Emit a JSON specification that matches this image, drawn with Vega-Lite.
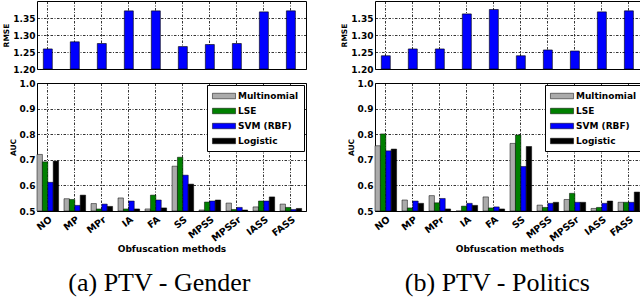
{
  "$schema": "https://vega.github.io/schema/vega-lite/v6.json",
  "background": "white",
  "padding": {"left": 2, "top": 0, "right": 0, "bottom": 0},
  "datasets": {
    "rmseA": [
      {"method": "NO", "value": 1.259}, {"method": "MP", "value": 1.280}, {"method": "MPr", "value": 1.275},
      {"method": "IA", "value": 1.371}, {"method": "FA", "value": 1.371}, {"method": "SS", "value": 1.266},
      {"method": "MPSS", "value": 1.272}, {"method": "MPSSr", "value": 1.275}, {"method": "IASS", "value": 1.368},
      {"method": "FASS", "value": 1.371}
    ],
    "rmseB": [
      {"method": "NO", "value": 1.239}, {"method": "MP", "value": 1.259}, {"method": "MPr", "value": 1.259},
      {"method": "IA", "value": 1.362}, {"method": "FA", "value": 1.375}, {"method": "SS", "value": 1.239},
      {"method": "MPSS", "value": 1.256}, {"method": "MPSSr", "value": 1.253}, {"method": "IASS", "value": 1.368},
      {"method": "FASS", "value": 1.371}
    ],
    "aucA": [
      {"method": "NO", "model": "Multinomial", "value": 0.721}, {"method": "NO", "model": "LSE", "value": 0.692}, {"method": "NO", "model": "SVM (RBF)", "value": 0.612}, {"method": "NO", "model": "Logistic", "value": 0.695},
      {"method": "MP", "model": "Multinomial", "value": 0.548}, {"method": "MP", "model": "LSE", "value": 0.545}, {"method": "MP", "model": "SVM (RBF)", "value": 0.522}, {"method": "MP", "model": "Logistic", "value": 0.562},
      {"method": "MPr", "model": "Multinomial", "value": 0.529}, {"method": "MPr", "model": "LSE", "value": 0.508}, {"method": "MPr", "model": "SVM (RBF)", "value": 0.527}, {"method": "MPr", "model": "Logistic", "value": 0.518},
      {"method": "IA", "model": "Multinomial", "value": 0.551}, {"method": "IA", "model": "LSE", "value": 0.508}, {"method": "IA", "model": "SVM (RBF)", "value": 0.539}, {"method": "IA", "model": "Logistic", "value": 0.508},
      {"method": "FA", "model": "Multinomial", "value": 0.508}, {"method": "FA", "model": "LSE", "value": 0.562}, {"method": "FA", "model": "SVM (RBF)", "value": 0.543}, {"method": "FA", "model": "Logistic", "value": 0.512},
      {"method": "SS", "model": "Multinomial", "value": 0.675}, {"method": "SS", "model": "LSE", "value": 0.710}, {"method": "SS", "model": "SVM (RBF)", "value": 0.640}, {"method": "SS", "model": "Logistic", "value": 0.605},
      {"method": "MPSS", "model": "Multinomial", "value": 0.504}, {"method": "MPSS", "model": "LSE", "value": 0.535}, {"method": "MPSS", "model": "SVM (RBF)", "value": 0.539}, {"method": "MPSS", "model": "Logistic", "value": 0.543},
      {"method": "MPSSr", "model": "Multinomial", "value": 0.531}, {"method": "MPSSr", "model": "LSE", "value": 0.506}, {"method": "MPSSr", "model": "SVM (RBF)", "value": 0.514}, {"method": "MPSSr", "model": "Logistic", "value": 0.504},
      {"method": "IASS", "model": "Multinomial", "value": 0.516}, {"method": "IASS", "model": "LSE", "value": 0.539}, {"method": "IASS", "model": "SVM (RBF)", "value": 0.539}, {"method": "IASS", "model": "Logistic", "value": 0.555},
      {"method": "FASS", "model": "Multinomial", "value": 0.527}, {"method": "FASS", "model": "LSE", "value": 0.514}, {"method": "FASS", "model": "SVM (RBF)", "value": 0.506}, {"method": "FASS", "model": "Logistic", "value": 0.510}
    ],
    "aucB": [
      {"method": "NO", "model": "Multinomial", "value": 0.755}, {"method": "NO", "model": "LSE", "value": 0.801}, {"method": "NO", "model": "SVM (RBF)", "value": 0.735}, {"method": "NO", "model": "Logistic", "value": 0.742},
      {"method": "MP", "model": "Multinomial", "value": 0.543}, {"method": "MP", "model": "LSE", "value": 0.512}, {"method": "MP", "model": "SVM (RBF)", "value": 0.539}, {"method": "MP", "model": "Logistic", "value": 0.530},
      {"method": "MPr", "model": "Multinomial", "value": 0.560}, {"method": "MPr", "model": "LSE", "value": 0.532}, {"method": "MPr", "model": "SVM (RBF)", "value": 0.549}, {"method": "MPr", "model": "Logistic", "value": 0.508},
      {"method": "IA", "model": "Multinomial", "value": 0.500}, {"method": "IA", "model": "LSE", "value": 0.519}, {"method": "IA", "model": "SVM (RBF)", "value": 0.530}, {"method": "IA", "model": "Logistic", "value": 0.522},
      {"method": "FA", "model": "Multinomial", "value": 0.555}, {"method": "FA", "model": "LSE", "value": 0.512}, {"method": "FA", "model": "SVM (RBF)", "value": 0.516}, {"method": "FA", "model": "Logistic", "value": 0.508},
      {"method": "SS", "model": "Multinomial", "value": 0.764}, {"method": "SS", "model": "LSE", "value": 0.797}, {"method": "SS", "model": "SVM (RBF)", "value": 0.674}, {"method": "SS", "model": "Logistic", "value": 0.752},
      {"method": "MPSS", "model": "Multinomial", "value": 0.523}, {"method": "MPSS", "model": "LSE", "value": 0.514}, {"method": "MPSS", "model": "SVM (RBF)", "value": 0.530}, {"method": "MPSS", "model": "Logistic", "value": 0.534},
      {"method": "MPSSr", "model": "Multinomial", "value": 0.545}, {"method": "MPSSr", "model": "LSE", "value": 0.569}, {"method": "MPSSr", "model": "SVM (RBF)", "value": 0.534}, {"method": "MPSSr", "model": "Logistic", "value": 0.534},
      {"method": "IASS", "model": "Multinomial", "value": 0.510}, {"method": "IASS", "model": "LSE", "value": 0.514}, {"method": "IASS", "model": "SVM (RBF)", "value": 0.530}, {"method": "IASS", "model": "Logistic", "value": 0.539},
      {"method": "FASS", "model": "Multinomial", "value": 0.534}, {"method": "FASS", "model": "LSE", "value": 0.534}, {"method": "FASS", "model": "SVM (RBF)", "value": 0.534}, {"method": "FASS", "model": "Logistic", "value": 0.574}
    ]
  },
  "spacing": 33,
  "resolve": {"scale": {"color": "independent"}, "legend": {"color": "independent"}},
  "hconcat": [
    {
      "title": {"text": "(a) PTV - Gender", "orient": "bottom", "anchor": "middle", "offset": 16, "dx": 5},
      "spacing": 3,
      "resolve": {"scale": {"color": "independent"}, "legend": {"color": "independent"}},
      "vconcat": [
        {
          "width": 269, "height": 68,
          "data": {"name": "rmseA"},
          "mark": {"type": "bar", "width": 9, "color": "#0000ff", "stroke": "black", "strokeWidth": 0.6},
          "encoding": {
            "x": {"field": "method", "type": "nominal", "sort": ["NO","MP","MPr","IA","FA","SS","MPSS","MPSSr","IASS","FASS"],
                  "scale": {"paddingInner": 0.2, "paddingOuter": 0.08, "align": 0},
                  "axis": {"labels": false, "ticks": false, "domain": false, "title": null, "grid": true, "bandPosition": 0.5}},
            "y": {"field": "value", "type": "quantitative", "scale": {"domain": [1.2, 1.4], "zero": false},
                  "axis": {"values": [1.2, 1.25, 1.3, 1.35], "format": ".2f", "title": "RMSE"}},
            "y2": {"datum": 1.2}
          }
        },
        {
          "width": 269, "height": 128,
          "data": {"name": "aucA"},
          "mark": {"type": "bar", "stroke": "black", "strokeWidth": 0.5},
          "encoding": {
            "x": {"field": "method", "type": "nominal", "sort": ["NO","MP","MPr","IA","FA","SS","MPSS","MPSSr","IASS","FASS"],
                  "scale": {"paddingInner": 0.2, "paddingOuter": 0.08, "align": 0},
                  "axis": {"labelAngle": -38, "title": "Obfuscation methods", "grid": true, "bandPosition": 0.5, "ticks": false, "domain": false}},
            "xOffset": {"field": "model", "type": "nominal", "sort": ["Multinomial","LSE","SVM (RBF)","Logistic"], "scale": {"paddingInner": 0, "paddingOuter": 0}},
            "y": {"field": "value", "type": "quantitative", "scale": {"domain": [0.5, 1.0], "zero": false},
                  "axis": {"values": [0.5, 0.6, 0.7, 0.8, 0.9, 1.0], "format": ".1f", "title": "AUC"}},
            "y2": {"datum": 0.5},
            "color": {"field": "model", "type": "nominal",
                      "scale": {"domain": ["Multinomial","LSE","SVM (RBF)","Logistic"], "range": ["#ababab","#008000","#0000ff","#000000"]},
                      "legend": {"title": null}}
          }
        }
      ]
    },
    {
      "title": {"text": "(b) PTV - Politics", "orient": "bottom", "anchor": "middle", "offset": 16, "dx": 5},
      "spacing": 3,
      "resolve": {"scale": {"color": "independent"}, "legend": {"color": "independent"}},
      "vconcat": [
        {
          "width": 269, "height": 68,
          "data": {"name": "rmseB"},
          "mark": {"type": "bar", "width": 9, "color": "#0000ff", "stroke": "black", "strokeWidth": 0.6},
          "encoding": {
            "x": {"field": "method", "type": "nominal", "sort": ["NO","MP","MPr","IA","FA","SS","MPSS","MPSSr","IASS","FASS"],
                  "scale": {"paddingInner": 0.2, "paddingOuter": 0.08, "align": 0},
                  "axis": {"labels": false, "ticks": false, "domain": false, "title": null, "grid": true, "bandPosition": 0.5}},
            "y": {"field": "value", "type": "quantitative", "scale": {"domain": [1.2, 1.4], "zero": false},
                  "axis": {"values": [1.2, 1.25, 1.3, 1.35], "format": ".2f", "title": "RMSE"}},
            "y2": {"datum": 1.2}
          }
        },
        {
          "width": 269, "height": 128,
          "data": {"name": "aucB"},
          "mark": {"type": "bar", "stroke": "black", "strokeWidth": 0.5},
          "encoding": {
            "x": {"field": "method", "type": "nominal", "sort": ["NO","MP","MPr","IA","FA","SS","MPSS","MPSSr","IASS","FASS"],
                  "scale": {"paddingInner": 0.2, "paddingOuter": 0.08, "align": 0},
                  "axis": {"labelAngle": -38, "title": "Obfuscation methods", "grid": true, "bandPosition": 0.5, "ticks": false, "domain": false}},
            "xOffset": {"field": "model", "type": "nominal", "sort": ["Multinomial","LSE","SVM (RBF)","Logistic"], "scale": {"paddingInner": 0, "paddingOuter": 0}},
            "y": {"field": "value", "type": "quantitative", "scale": {"domain": [0.5, 1.0], "zero": false},
                  "axis": {"values": [0.5, 0.6, 0.7, 0.8, 0.9, 1.0], "format": ".1f", "title": "AUC"}},
            "y2": {"datum": 0.5},
            "color": {"field": "model", "type": "nominal",
                      "scale": {"domain": ["Multinomial","LSE","SVM (RBF)","Logistic"], "range": ["#ababab","#008000","#0000ff","#000000"]},
                      "legend": {"title": null}}
          }
        }
      ]
    }
  ],
  "config": {
    "view": {"stroke": "black", "strokeWidth": 1},
    "axis": {
      "zindex": 1,
      "labelFont": "DejaVu Sans", "labelFontWeight": "bold", "labelFontSize": 9, "labelColor": "black",
      "titleFont": "DejaVu Sans", "titleFontWeight": "bold", "titleFontSize": 7.5, "titleColor": "black",
      "gridColor": "black", "gridDash": [2.5, 1.5, 1, 1.5], "gridWidth": 0.8, "gridOpacity": 1
    },
    "axisY": {"ticks": false, "domain": false, "labelPadding": 2, "titlePadding": 2},
    "axisX": {"labelPadding": 3, "titlePadding": 2, "labelFontSize": 9.5, "titleFontSize": 9},
    "legend": {
      "orient": "top-right", "offset": 2, "padding": 5, "strokeColor": "black", "fillColor": "white",
      "symbolType": "M-2.1,-0.5H2.1V0.5H-2.1Z", "symbolSize": 121, "symbolOffset": 6, "symbolStrokeColor": "black", "symbolStrokeWidth": 0.5,
      "labelFont": "DejaVu Sans", "labelFontWeight": "bold", "labelFontSize": 9, "labelColor": "black",
      "rowPadding": 4, "labelOffset": 8, "cornerRadius": 0, "zindex": 2
    },
    "title": {"font": "Liberation Serif", "fontSize": 26, "fontWeight": "normal", "color": "black"}
  }
}
